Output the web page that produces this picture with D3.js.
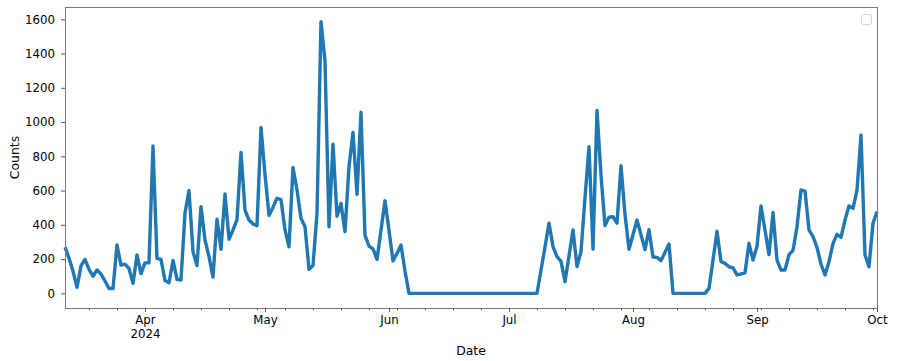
<!DOCTYPE html>
<html><head><meta charset="utf-8">
<script src="https://cdn.jsdelivr.net/npm/d3@7"></script>
<style>
body{margin:0;background:#fff}
svg{display:block}
text{font-family:"DejaVu Sans",sans-serif;fill:#000}
</style>
</head><body>
<svg id="c" width="901" height="361"></svg>
<script>
// ---- data ----
const startDate = "2024-03-12";
const counts = [
 270,205,130,35,160,198,140,100,136,113,72,28,28,282,165,170,145,58,224,115,
 178,178,860,204,198,75,62,192,82,78,470,600,243,162,506,312,214,95,433,257,
 580,316,370,430,823,486,428,405,395,968,695,455,503,555,547,370,272,735,603,438,
 389,140,162,467,1586,1355,389,871,450,525,360,740,939,578,1057,338,276,260,198,370,
 540,368,189,233,282,130,
 0,0,0,0,0,0,0,0,0,0,0,0,0,0,0,0,0,0,0,0,0,0,0,0,0,0,0,0,0,0,0,0,0,
 135,270,410,272,214,187,68,218,370,156,243,558,856,258,1068,690,396,445,447,410,
 745,460,257,342,428,342,255,372,212,210,191,240,288,
 0,0,0,0,0,0,0,0,0,
 29,194,362,185,175,155,148,108,113,120,292,194,275,510,370,226,472,194,136,136,
 226,250,389,603,597,370,331,268,170,107,185,290,345,327,428,510,496,603,924,224,
 155,409,477
];
const monthTicks = ["2024-04-01","2024-05-01","2024-06-01","2024-07-01","2024-08-01","2024-09-01","2024-10-01"];
const monthLabels = ["Apr","May","Jun","Jul","Aug","Sep","Oct"];
const yearLabel = "2024";
const yTicks = [0,200,400,600,800,1000,1200,1400,1600];
const xLabel = "Date";
const yLabel = "Counts";

// ---- layout ----
const L = 65, R = 877, T = 7, B = 308;
const svg = d3.select("#c");
const parse = d3.utcParse("%Y-%m-%d");
const t0 = parse(startDate);
const data = counts.map((v,i)=>({d:d3.utcDay.offset(t0,i), v}));

const x = d3.scaleUtc().domain(d3.extent(data,d=>d.d)).range([L,R]);
const ymax = d3.max(counts), ymin = d3.min(counts);
const pad = (ymax-ymin)*0.054;
const y = d3.scaleLinear().domain([ymin-pad, ymax+pad]).range([B,T]);

// line
svg.append("path").datum(data)
  .attr("fill","none").attr("stroke","#1f77b4").attr("stroke-width",3.4)
  .attr("stroke-linejoin","round")
  .attr("d", d3.line().x(d=>x(d.d)).y(d=>y(d.v)));

// frame
svg.append("rect").attr("x",L).attr("y",T).attr("width",R-L).attr("height",B-T)
  .attr("fill","none").attr("stroke","#7a7a7a").attr("stroke-width",1).attr("shape-rendering","crispEdges");

// minor ticks (Mondays)
const mondays = d3.utcMonday.range(x.domain()[0], d3.utcDay.offset(x.domain()[1],1));
const gMinor = svg.append("g").attr("transform",`translate(0,${B})`)
  .call(d3.axisBottom(x).tickValues(mondays).tickSize(2.3).tickSizeOuter(0).tickFormat(""));
gMinor.select(".domain").remove();
gMinor.selectAll("line").attr("stroke","#555");

// major x ticks
const mDates = monthTicks.map(parse);
const gx = svg.append("g").attr("transform",`translate(0,${B})`)
  .call(d3.axisBottom(x).tickValues(mDates).tickSize(4).tickSizeOuter(0)
    .tickFormat((d,i)=>monthLabels[i]));
gx.select(".domain").remove();
gx.selectAll("line").attr("stroke","#555");
gx.selectAll("text").attr("dy",null).attr("y",15.5).attr("font-size","11.8px")
  .attr("font-family","DejaVu Sans").attr("fill","#000");
gx.selectAll("text").filter((d,i)=>i===0)
  .append("tspan").attr("x",0).attr("dy",14.5).text(yearLabel);

// y ticks
const gy = svg.append("g").attr("transform",`translate(${L},0)`)
  .call(d3.axisLeft(y).tickValues(yTicks).tickSize(4).tickPadding(6).tickSizeOuter(0)
    .tickFormat(d3.format("d")));
gy.select(".domain").remove();
gy.selectAll("line").attr("stroke","#555");
gy.selectAll("text").attr("font-size","11.8px").attr("font-family","DejaVu Sans").attr("fill","#000");

// axis labels
svg.append("text").attr("x",(L+R)/2).attr("y",354.5).attr("text-anchor","middle")
  .attr("font-size","12.4px").text(xLabel);
svg.append("text").attr("transform",`translate(19.3,${(T+B)/2}) rotate(-90)`)
  .attr("text-anchor","middle").attr("font-size","12.4px").text(yLabel);

// empty legend frame
svg.append("rect").attr("x",861.5).attr("y",14.5).attr("width",10).attr("height",10).attr("rx",2)
  .attr("fill","#fff").attr("stroke","#d6d6d6").attr("stroke-width",1);
</script>
</body></html>
